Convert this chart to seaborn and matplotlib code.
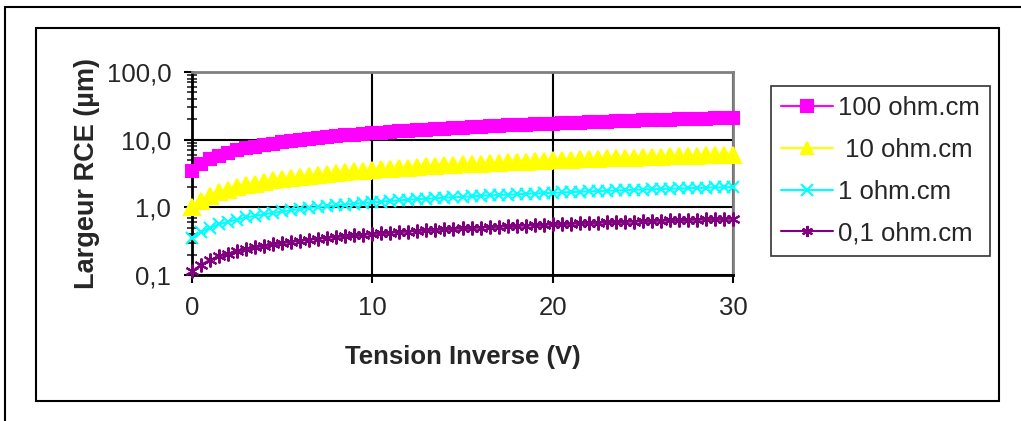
import numpy as np
import pandas as pd
import seaborn as sns
import matplotlib.pyplot as plt
from matplotlib.patches import Rectangle
from matplotlib.ticker import FixedLocator, LogLocator, NullFormatter

# reverse voltage, 0 to 30 V every 0.5 V
tension = [i * 0.5 for i in range(61)]

w_100 = [3.49, 4.39, 5.14, 5.80, 6.38, 6.92, 7.42, 7.89, 8.33, 8.74, 9.15, 9.53, 9.90, 10.25, 10.59,
         10.93, 11.25, 11.56, 11.87, 12.16, 12.45, 12.74, 13.02, 13.29, 13.55, 13.81, 14.07, 14.32,
         14.57, 14.81, 15.05, 15.29, 15.52, 15.75, 15.97, 16.20, 16.42, 16.63, 16.84, 17.06, 17.26,
         17.47, 17.67, 17.88, 18.07, 18.27, 18.47, 18.66, 18.85, 19.04, 19.22, 19.41, 19.59, 19.77,
         19.95, 20.13, 20.31, 20.48, 20.66, 20.83, 21.0]
w_10 = [1.00, 1.26, 1.47, 1.66, 1.82, 1.98, 2.12, 2.25, 2.38, 2.50, 2.61, 2.72, 2.83, 2.93, 3.03,
        3.12, 3.21, 3.30, 3.39, 3.48, 3.56, 3.64, 3.72, 3.80, 3.87, 3.95, 4.02, 4.09, 4.16, 4.23,
        4.30, 4.37, 4.43, 4.50, 4.56, 4.63, 4.69, 4.75, 4.81, 4.87, 4.93, 4.99, 5.05, 5.11, 5.16,
        5.22, 5.28, 5.33, 5.39, 5.44, 5.49, 5.55, 5.60, 5.65, 5.70, 5.75, 5.80, 5.85, 5.90, 5.95, 6.00]
w_1 = [0.35, 0.43, 0.50, 0.56, 0.61, 0.66, 0.71, 0.75, 0.79, 0.83, 0.87, 0.91, 0.94, 0.98, 1.01,
       1.04, 1.07, 1.10, 1.13, 1.16, 1.19, 1.21, 1.24, 1.27, 1.29, 1.32, 1.34, 1.36, 1.39, 1.41,
       1.43, 1.46, 1.48, 1.50, 1.52, 1.54, 1.56, 1.58, 1.60, 1.62, 1.64, 1.66, 1.68, 1.70, 1.72,
       1.74, 1.76, 1.78, 1.80, 1.81, 1.83, 1.85, 1.87, 1.88, 1.90, 1.92, 1.93, 1.95, 1.97, 1.98, 2.00]
w_01 = [0.113, 0.142, 0.167, 0.188, 0.207, 0.224, 0.240, 0.255, 0.270, 0.283, 0.296, 0.309, 0.320,
        0.332, 0.343, 0.354, 0.364, 0.374, 0.384, 0.394, 0.403, 0.412, 0.421, 0.430, 0.439, 0.447,
        0.456, 0.464, 0.472, 0.480, 0.487, 0.495, 0.503, 0.510, 0.517, 0.524, 0.531, 0.538, 0.545,
        0.552, 0.559, 0.565, 0.572, 0.578, 0.585, 0.591, 0.598, 0.604, 0.610, 0.616, 0.622, 0.628,
        0.634, 0.640, 0.646, 0.651, 0.657, 0.663, 0.669, 0.674, 0.680]

labels = ['100 ohm.cm', ' 10 ohm.cm', '1 ohm.cm', '0,1 ohm.cm']
y_ticks = [0.1, 1, 10, 100]
y_tick_labels = ['0,1', '1,0', '10,0', '100,0']
x_ticks = [0, 10, 20, 30]

sns.set_style('white')
plt.rcParams['font.family'] = ['Liberation Sans', 'DejaVu Sans']

fig = plt.figure(figsize=(10.21, 4.21), dpi=100)
ax = fig.add_axes([192 / 1021, 1 - 275 / 421, (733 - 192) / 1021, (275 - 72) / 421])

styles = [
    (w_100, '#ff00ff', 's', 9),
    (w_10, '#ffff00', '^', 11),
    (w_1, '#00ffff', 'x', 8),
    (w_01, '#800080', (6, 2, 0), 10),
]
for (vals, col, mk, ms), lab in zip(styles, labels):
    df = pd.DataFrame({'V': tension, 'W': vals})
    sns.lineplot(data=df, x='V', y='W', ax=ax, color=col, marker=mk, markersize=ms,
                 markeredgecolor=col, markerfacecolor=col, markeredgewidth=1.5,
                 linewidth=1.5, label=lab, clip_on=False, zorder=3)

ax.set_yscale('log')
ax.set_ylim(0.1, 100)
ax.set_xlim(0, 30)
ax.yaxis.set_major_locator(FixedLocator(y_ticks))
ax.set_yticklabels(y_tick_labels)
ax.yaxis.set_minor_locator(LogLocator(base=10, subs=np.arange(2, 10)))
ax.yaxis.set_minor_formatter(NullFormatter())
ax.set_xticks(x_ticks)
ax.set_xticklabels([str(t) for t in x_ticks])

ax.grid(True, which='major', color='black', linewidth=1.5)
ax.set_axisbelow(True)
for side in ['left', 'bottom']:
    ax.spines[side].set_color('black')
    ax.spines[side].set_linewidth(2)
for side in ['top', 'right']:
    ax.spines[side].set_color('#808080')
    ax.spines[side].set_linewidth(2)

ax.tick_params(axis='both', which='major', labelsize=18.5, direction='out', length=6, width=1.5,
               color='black', pad=9, left=True, bottom=True)
ax.tick_params(axis='y', which='minor', direction='inout', length=7, width=1.2, left=True)

ax.set_xlabel('Tension Inverse (V)', fontsize=18.5, fontweight='bold', labelpad=18)
ax.set_ylabel('Largeur RCE (µm)', fontsize=19.5, fontweight='bold', labelpad=5)

leg = ax.legend(loc='upper left', bbox_to_anchor=(771 / 1021, 1 - 86 / 421),
                bbox_transform=fig.transFigure, borderaxespad=0, fontsize=18.5,
                frameon=True, fancybox=False, edgecolor='black', handlelength=2.0,
                labelspacing=0.69, handletextpad=0.22, borderpad=0.4)
leg.get_frame().set_linewidth(1.2)
for h in leg.legend_handles:
    h.set_markersize(8)

# chart frames
fig.patches.append(Rectangle((5 / 1021, -0.1), 1.2, 1 - 7 / 421 + 0.1, transform=fig.transFigure,
                             fill=False, edgecolor='black', linewidth=1.5))
fig.patches.append(Rectangle((36 / 1021, 1 - 401 / 421), (999 - 36) / 1021, (401 - 28) / 421,
                             transform=fig.transFigure, fill=False, edgecolor='black', linewidth=1.5))

fig.savefig('out.png', dpi=100)
